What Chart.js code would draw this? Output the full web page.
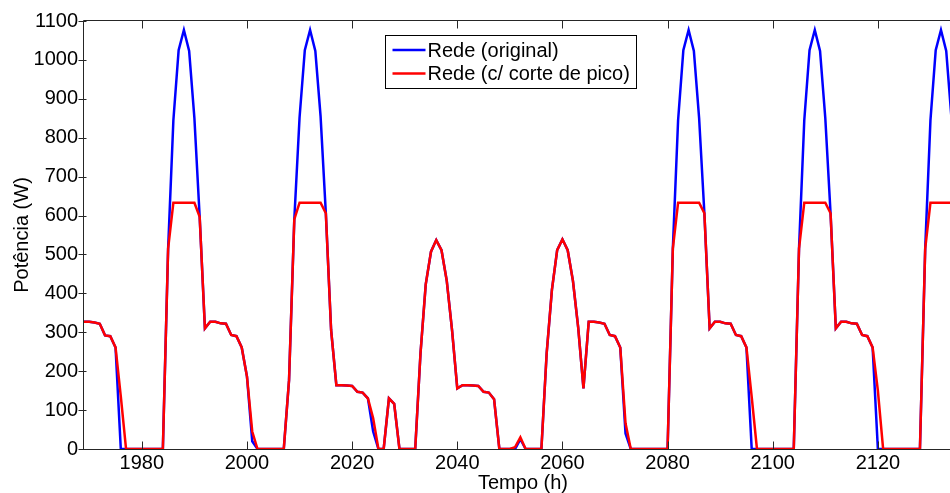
<!DOCTYPE html>
<html>
<head>
<meta charset="utf-8">
<script src="https://cdn.jsdelivr.net/npm/chart.js@4.4.1/dist/chart.umd.min.js"></script>
<style>
    html, body { margin: 0; padding: 0; background: #fff; overflow: hidden; }
    #zona { position: relative; width: 1000px; height: 493px; }
</style>
</head>
<body>
<div id="zona"><canvas id="graficoRede"></canvas></div>
<script>
// Potência da rede, hora a hora (1969 h ... 2136 h)
const horaInicio = 1969;
const horaFim = 2136;

const redeOriginal = [
    327, 327, 325, 322, 292, 290, 261, 0, 0,
    0, 0, 0, 0, 0, 0, 0,
    515, 845, 1025, 1077, 1023, 850, 597, 310,
    327, 327, 323, 322, 293, 290, 261, 186, 20, 0,
    0, 0, 0, 0, 0,
    177, 590, 852, 1025, 1077, 1023, 855, 606, 306,
    164, 164, 163, 162, 147, 145, 130, 45, 0,
    0, 130, 116, 0,
    0, 0, 0,
    245, 423, 507, 537, 511, 432, 306, 156,
    164, 164, 163, 162, 147, 145, 128, 0,
    0, 0, 0, 25, 0,
    0, 0, 0,
    246, 409, 511, 539, 511, 432, 312, 156,
    327, 327, 325, 322, 293, 290, 261, 40, 0,
    0, 0, 0, 0, 0, 0, 0,
    515, 845, 1025, 1077, 1023, 850, 606, 310,
    327, 327, 323, 322, 293, 290, 261, 0, 0,
    0, 0, 0, 0, 0, 0, 0,
    515, 845, 1025, 1077, 1023, 850, 606, 310,
    327, 327, 323, 322, 293, 290, 261, 0, 0,
    0, 0, 0, 0, 0, 0, 0,
    515, 845, 1025, 1077, 1023, 850, 600, 310
];

const redeCorte = [
    327, 327, 325, 322, 292, 290, 261, 135, 0,
    0, 0, 0, 0, 0, 0, 0,
    515, 633, 633, 633, 633, 633, 597, 310,
    327, 327, 323, 322, 293, 290, 261, 186, 45, 0,
    0, 0, 0, 0, 0,
    177, 590, 633, 633, 633, 633, 633, 606, 306,
    164, 164, 163, 162, 147, 145, 130, 79, 0,
    0, 130, 116, 0,
    0, 0, 0,
    245, 423, 507, 537, 511, 432, 306, 156,
    164, 164, 163, 162, 147, 145, 128, 0,
    0, 0, 5, 30, 0,
    0, 0, 0,
    246, 409, 511, 539, 511, 432, 312, 156,
    327, 327, 325, 322, 293, 290, 261, 66, 0,
    0, 0, 0, 0, 0, 0, 0,
    515, 633, 633, 633, 633, 633, 606, 310,
    327, 327, 323, 322, 293, 290, 261, 134, 0,
    0, 0, 0, 0, 0, 0, 0,
    515, 633, 633, 633, 633, 633, 606, 310,
    327, 327, 323, 322, 293, 290, 261, 150, 0,
    0, 0, 0, 0, 0, 0, 0,
    515, 633, 633, 633, 633, 633, 600, 310
];

const horas = redeOriginal.map((_, i) => horaInicio + i);

const fonte = '"Liberation Sans", Arial, sans-serif';
Chart.defaults.font.family = fonte;
Chart.defaults.color = '#000';

// moldura estilo MATLAB com ticks para dentro
const molduraEixos = {
    id: 'molduraEixos',
    afterDatasetsDraw(chart) {
        const { ctx, chartArea: a, scales: { x, y } } = chart;
        const l = Math.round(a.left) - 0.5, r = Math.round(a.right) + 0.5;
        const t = Math.round(a.top) - 0.5, b = Math.round(a.bottom) + 0.5;
        ctx.save();
        ctx.strokeStyle = '#262626';
        ctx.lineWidth = 1;
        ctx.beginPath();
        ctx.rect(l, t, r - l, b - t);
        x.ticks.forEach(tk => {
            const px = Math.round(x.getPixelForValue(tk.value)) + 0.5;
            ctx.moveTo(px, b); ctx.lineTo(px, b - 8);
            ctx.moveTo(px, t); ctx.lineTo(px, t + 8);
        });
        y.ticks.forEach(tk => {
            const py = Math.round(y.getPixelForValue(tk.value)) + 0.5;
            ctx.moveTo(l - 5, py); ctx.lineTo(l + 3, py);
        });
        ctx.stroke();
        ctx.restore();
    }
};

// legenda com caixa
const legendaCaixa = {
    id: 'legendaCaixa',
    afterDraw(chart) {
        const { ctx, chartArea: a } = chart;
        const conjuntos = chart.data.datasets;
        ctx.save();
        ctx.font = '20px ' + fonte;
        const larguraTexto = Math.max(...conjuntos.map(d => ctx.measureText(d.label).width));
        const x0 = Math.round(a.left + 301) + 0.5;
        const y0 = Math.round(a.top + 14) + 0.5;
        const w = Math.round(42 + larguraTexto + 7), h = 53;
        ctx.fillStyle = '#fff';
        ctx.fillRect(x0, y0, w, h);
        ctx.strokeStyle = '#000';
        ctx.lineWidth = 1;
        ctx.strokeRect(x0, y0, w, h);
        conjuntos.forEach((d, i) => {
            const yl = y0 + 14.5 + i * 23.5;
            ctx.strokeStyle = d.borderColor;
            ctx.lineWidth = 2.5;
            ctx.beginPath();
            ctx.moveTo(x0 + 7, yl);
            ctx.lineTo(x0 + 40, yl);
            ctx.stroke();
            ctx.fillStyle = '#000';
            ctx.textBaseline = 'middle';
            ctx.fillText(d.label, x0 + 42, yl + 1);
        });
        ctx.restore();
    }
};

new Chart(document.getElementById('graficoRede').getContext('2d'), {
    type: 'line',
    data: {
        datasets: [{
            label: 'Rede (original)',
            data: horas.map((h, i) => ({ x: h, y: redeOriginal[i] })),
            borderColor: '#0000ff',
            borderWidth: 2.5,
            pointRadius: 0,
            tension: 0,
            fill: false,
            order: 2
        }, {
            label: 'Rede (c/ corte de pico)',
            data: horas.map((h, i) => ({ x: h, y: redeCorte[i] })),
            borderColor: '#ff0000',
            borderWidth: 2.5,
            pointRadius: 0,
            tension: 0,
            fill: false,
            order: 1
        }]
    },
    options: {
        responsive: true,
        maintainAspectRatio: false,
        animation: false,
        layout: { padding: { top: 21, right: 38, left: 0, bottom: 0 } },
        plugins: {
            legend: { display: false },
            tooltip: { enabled: false }
        },
        scales: {
            x: {
                type: 'linear',
                min: horaInicio,
                max: horaFim,
                grid: { display: false, drawTicks: false },
                border: { display: false },
                ticks: {
                    stepSize: 20,
                    includeBounds: false,
                    maxRotation: 0,
                    autoSkip: false,
                    padding: 2,
                    font: { size: 20 },
                    callback: v => String(v)
                },
                title: {
                    display: true,
                    text: 'Tempo (h)',
                    font: { size: 20, lineHeight: 1 },
                    padding: { top: 0, bottom: 0 }
                },
                afterFit: s => { s.height = 44; }
            },
            y: {
                min: 0,
                max: 1100,
                grid: { display: false, drawTicks: false },
                border: { display: false },
                ticks: {
                    stepSize: 100,
                    padding: 6,
                    font: { size: 20 },
                    callback: v => String(v)
                },
                title: {
                    display: true,
                    text: 'Potência (W)',
                    font: { size: 20, lineHeight: 1 },
                    padding: { top: 12, bottom: 0 }
                },
                afterFit: s => { s.width = 84; }
            }
        }
    },
    plugins: [molduraEixos, legendaCaixa]
});
</script>
</body>
</html>
